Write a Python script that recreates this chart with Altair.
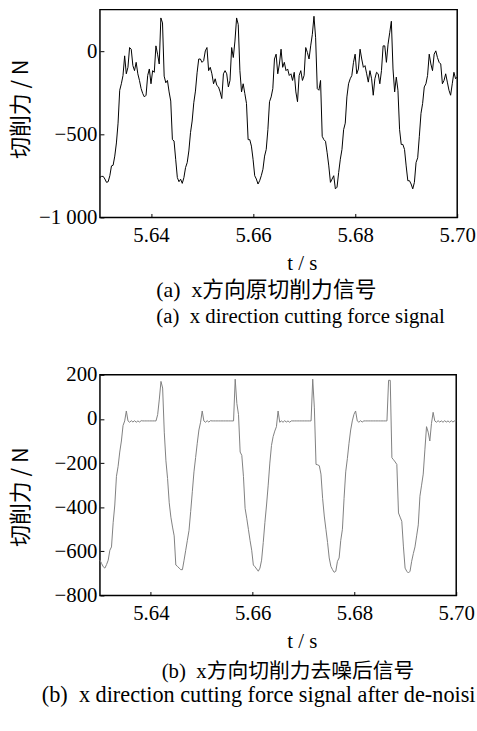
import altair as alt
import numpy as np
import pandas as pd

# ---------------- data ----------------
T_START, T_END = 5.63, 5.70

# (a) raw x-direction cutting force, N (uniform samples over T_START..T_END)
raw_force = [
    -759, -753, -753, -769, -789, -785, -749, -690, -686, -631,
    -552, -433, -235, -196, -146, -28, -136, -97, 22, 12,
    -87, -117, -67, -136, -176, -225, -255, -275, -265, -146,
    -107, -196, -117, -127, 32, -18, -77, 200, 170, -150,
    -190, -176, -245, -300, -532, -540, -650, -760, -785, -770,
    -795, -760, -700, -670, -600, -490, -420, -310, -240, -130,
    -47, -47, -67, -57, 2, 22, -117, -97, -136, -196,
    -166, -206, -215, -245, -285, -136, -117, -136, -215, -176,
    22, -38, 61, 200, 160, -117, -245, -196, -255, -314,
    -532, -532, -571, -650, -749, -769, -799, -779, -749, -710,
    -631, -591, -472, -304, -275, -225, -47, -18, -136, -77,
    12, -97, -67, -117, -107, -146, -136, -176, -127, -245,
    -304, -146, -117, -176, -146, 22, -8, -47, 32, 101,
    210, 81, -225, -235, -176, -512, -532, -542, -611, -690,
    -789, -769, -749, -828, -818, -730, -650, -591, -472, -433,
    -275, -196, -166, -146, -67, -18, -136, -107, 12, -47,
    -97, -87, -136, -186, -117, -166, -265, -166, -127, -136,
    -196, -117, 32, 32, -67, 42, 111, 180, -107, -245,
    -156, -235, -472, -561, -561, -591, -690, -779, -779, -799,
    -828, -789, -670, -641, -512, -374, -314, -215, -196, -146,
    -18, -77, -117, -18, 2, -38, -67, -77, -196, -176,
    -136, -186, -235, -265, -196, -127, -166, -156,
]

# (b) de-noised x-direction cutting force, N
denoised_force = [
    -640, -655, -670, -676, -660, -640, -595, -580, -470, -390,
    -260, -215, -150, -100, -30, -9, 36, -9, -15, -8,
    -14, -8, -15, -9, -14, -8, -9, -9, -9, -9,
    -9, -9, -9, -9, -9, 20, 90, 170, 140, -60,
    -190, -270, -380, -445, -490, -530, -662, -668, -676, -683,
    -683, -640, -595, -550, -505, -420, -330, -240, -175, -110,
    -50, -15, 36, -9, -15, -8, -14, -8, -9, -9,
    -9, -9, -9, -9, -9, -9, -9, -9, -9, -9,
    -9, -9, 180, 70, 20, -150, -165, -260, -405, -450,
    -500, -550, -595, -662, -670, -680, -690, -676, -640, -560,
    -470, -390, -300, -200, -120, -80, -55, -35, 36, -15,
    -9, -15, -8, -14, -9, -15, -9, -9, -9, -9,
    -9, -9, -9, -9, -9, -9, -9, -9, -9, 180,
    50, -206, -208, -212, -250, -360, -440, -500, -560, -630,
    -668, -683, -695, -690, -645, -630, -550, -500, -360, -240,
    -180, -110, -50, -9, 21, 36, -9, -15, -8, -14,
    -9, -9, -9, -9, -9, -9, -9, -9, -9, -9,
    -9, -9, -9, -9, -9, 175, 175, -176, -185, -195,
    -206, -426, -445, -464, -580, -676, -690, -698, -690, -645,
    -610, -580, -530, -480, -350, -300, -250, -140, -35, -60,
    -100, -20, 30, -9, -15, -8, -14, -9, -15, -8,
    -14, -9, -15, -8, -14, -9, -9,
]

x_ticks = [5.64, 5.66, 5.68, 5.70]
y_ticks_a = [-1000, -500, 0]
y_ticks_b = [-800, -600, -400, -200, 0, 200]
y_domain_a = [-1000, 250]
y_domain_b = [-800, 200]

x_title = "t / s"
y_title = "切削力 / N"
caption_a_cn = "(a)\u00a0 x方向原切削力信号"
caption_a_en = "(a)\u00a0 x direction cutting force signal"
caption_b_cn = "(b)\u00a0 x方向切削力去噪后信号"
caption_b_en = "(b)\u00a0 x direction cutting force signal after de-noising"

df_a = pd.DataFrame({"t": np.linspace(T_START, T_END, len(raw_force)), "f": raw_force})
df_b = pd.DataFrame({"t": np.linspace(T_START, T_END, len(denoised_force)), "f": denoised_force})

SERIF = "Liberation Serif"
CJK = "Noto Sans CJK SC"
MIX = "Liberation Serif, Noto Sans CJK SC"
Y_LABEL_EXPR = "replace(format(datum.value, ','), ',', ' ')"


def panel(df, color, y_domain, y_ticks, w, h, y_title_y, title):
    xs = alt.Scale(domain=[T_START, T_END], nice=False, zero=False)
    ys = alt.Scale(domain=y_domain, nice=False, zero=False)
    main = alt.Chart(df).mark_line(color=color, strokeWidth=1).encode(
        x=alt.X("t:Q", scale=xs, axis=alt.Axis(
            orient="bottom", values=x_ticks, format=".2f", ticks=False, tickSize=0,
            domain=False, grid=False, labelFlush=False, labelFont=SERIF,
            labelFontSize=21, labelColor="black", labelPadding=7,
            title=x_title, titleFont=SERIF, titleFontSize=21, titleFontWeight="normal",
            titleColor="black", titleX=204, titleY=47, titleBaseline="middle",
            titleAlign="center")),
        y=alt.Y("f:Q", scale=ys, axis=alt.Axis(
            orient="left", values=y_ticks, labelExpr=Y_LABEL_EXPR, ticks=False,
            tickSize=0, domain=False, grid=False, labelFlush=False, labelFont=SERIF,
            labelFontSize=21, labelColor="black", labelPadding=3,
            title=y_title, titleFont=CJK, titleFontSize=22, titleFontWeight="normal",
            titleColor="black", titleX=-80, titleY=y_title_y, titleBaseline="middle",
            titleAlign="center", titleAngle=270)),
    )
    tick_layer = alt.Chart(df).mark_line(strokeOpacity=0).encode(
        x=alt.X("t:Q", scale=xs, axis=alt.Axis(
            orient="bottom", values=x_ticks, labels=False, domain=False, grid=False,
            ticks=True, tickSize=4, tickColor="black", tickWidth=1, offset=-4,
            title=None)),
        y=alt.Y("f:Q", scale=ys, axis=alt.Axis(
            orient="left", values=y_ticks, labels=False, domain=False, grid=False,
            ticks=True, tickSize=4, tickColor="black", tickWidth=1, offset=-4,
            title=None)),
    )
    return (
        alt.layer(main, tick_layer)
        .resolve_axis(x="independent", y="independent")
        .properties(width=w, height=h, title=title)
    )


title_a = alt.TitleParams(
    text=caption_a_cn, subtitle=caption_a_en, orient="bottom", anchor="start",
    frame="group", dx=57, offset=6, font=MIX, fontSize=22, fontWeight="normal",
    color="black", subtitleFont=SERIF, subtitleFontSize=21, subtitleColor="black",
    subtitlePadding=5)
title_b = alt.TitleParams(
    text=caption_b_cn, orient="bottom", anchor="middle", frame="group", dx=10,
    offset=9, font=MIX, fontSize=21, fontWeight="normal", color="black")
# the English line of (b) runs past the page edge in the reference: cut it there
title_b_en = alt.TitleParams(
    text=caption_b_en, orient="bottom", anchor="start", frame="bounds", dx=33,
    offset=2, font=SERIF, fontSize=22.5, fontWeight="normal", color="black",
    limit=440)

top = panel(df_a, "#000000", y_domain_a, y_ticks_a, 361, 210, 100, title_a)
bottom = panel(df_b, "#808080", y_domain_b, y_ticks_b, 360, 223, 123, title_b)

chart = (
    alt.vconcat(top, bottom, spacing=35)
    .properties(title=title_b_en,
                padding={"left": 9, "top": 5, "right": 0, "bottom": 0},
                background="white")
    .configure(style={"group-title": {"ellipsis": "\u200b"}})
    .configure_view(stroke="black", strokeWidth=1.5)
)

chart.save("out.html", embed_options={"renderer": "svg", "actions": False})
